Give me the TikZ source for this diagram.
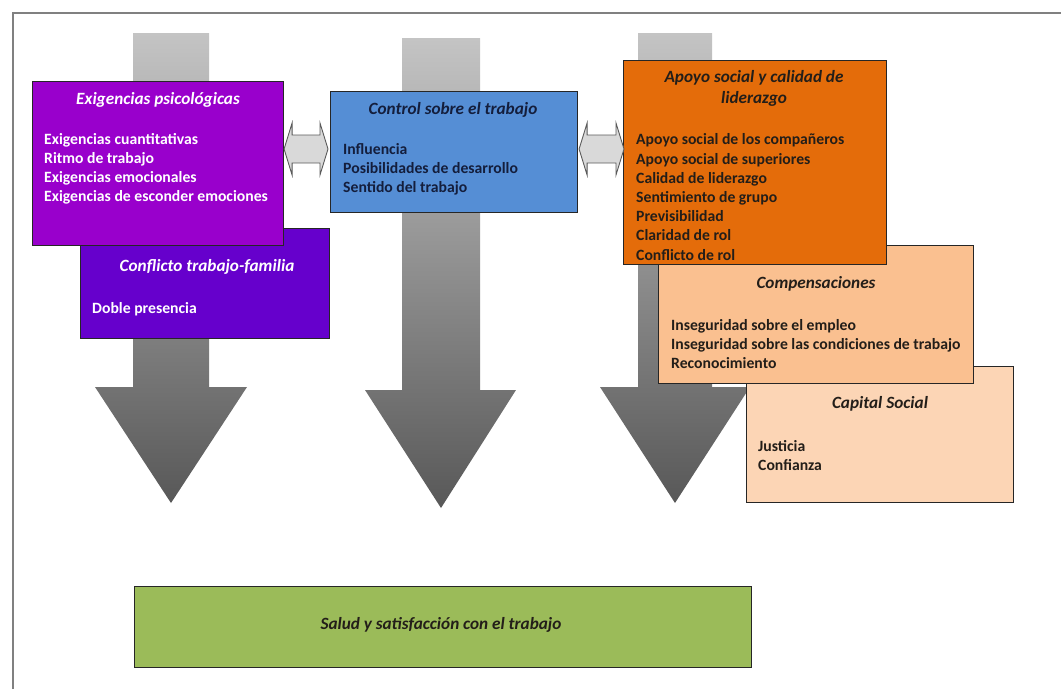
\documentclass[tikz,border=0pt]{standalone}
\usepackage{fontspec}
\setmainfont{Carlito}
\usetikzlibrary{calc}
\definecolor{frame}{RGB}{128,128,128}
\definecolor{exigc}{RGB}{153,0,204}
\definecolor{conflc}{RGB}{102,0,204}
\definecolor{ctrlc}{RGB}{85,142,213}
\definecolor{apoyoc}{RGB}{228,108,10}
\definecolor{compc}{RGB}{250,192,144}
\definecolor{capc}{RGB}{252,213,181}
\definecolor{saludc}{RGB}{155,187,89}
\definecolor{edge}{RGB}{38,38,38}
\definecolor{navytext}{RGB}{20,30,60}
\definecolor{darktext}{RGB}{35,30,25}
\definecolor{arrtop}{RGB}{196,196,196}
\definecolor{arrbot}{RGB}{88,88,88}
\definecolor{dafill}{RGB}{217,217,217}
\definecolor{daedge}{RGB}{90,90,90}
\tikzset{
  box/.style={draw=edge, line width=1.1pt, rectangle, inner sep=0pt, anchor=north west},
  ttl/.style={font=\fontsize{17.2}{21}\selectfont\bfseries\itshape, align=center, inner sep=0pt},
  items/.style={font=\fontsize{15.7}{19.2}\selectfont\bfseries, align=left, inner sep=0pt, anchor=west},
  bigarrow/.style={top color=arrtop, bottom color=arrbot, draw=none},
  dblarrow/.style={fill=dafill, draw=daedge, line width=0.9pt, line join=miter}
}
\begin{document}
\begin{tikzpicture}[x=1pt,y=-1pt]
\useasboundingbox (0,0) rectangle (1061,689);
% frame (top and left edges visible)
\coordinate (fTL) at (13,13);
\coordinate (fTR) at (1061,13);
\coordinate (fBL) at (13,689);
\draw[frame, line width=2pt] (fBL) -- (fTL) -- (fTR);

% big downward arrows
\path[bigarrow] (133,33) -- (209,33) -- (209,387) -- (247,387) -- (171,503) -- (95,387) -- (133,387) -- cycle;
\path[bigarrow] (402,38) -- (480,38) -- (480,390) -- (516,390) -- (441,508) -- (365,390) -- (402,390) -- cycle;
\path[bigarrow] (638,33) -- (712,33) -- (712,387) -- (750,387) -- (675,503) -- (600,387) -- (638,387) -- cycle;

% boxes
\node[box, fill=conflc, minimum width=249pt, minimum height=110pt] (confl) at (80,228) {};
\node[box, fill=exigc, minimum width=251pt, minimum height=164pt] (exig) at (32,81) {};
\node[box, fill=ctrlc, minimum width=247pt, minimum height=121pt] (ctrl) at (330,91) {};
\node[box, fill=capc, minimum width=267pt, minimum height=136pt] (cap) at (746,366) {};
\node[box, fill=compc, minimum width=315pt, minimum height=138pt] (comp) at (658,245) {};
\node[box, fill=apoyoc, minimum width=263pt, minimum height=204pt] (apoyo) at (623,60) {};
\node[box, fill=saludc, minimum width=617pt, minimum height=81pt] (salud) at (134,586) {};

% texts
\node[ttl, text=white] (exigT) at (158,100) {Exigencias psicológicas};
\node[items, text=white] (exigI) at (44,169) {Exigencias cuantitativas\\Ritmo de trabajo\\Exigencias emocionales\\Exigencias de esconder emociones};
\node[ttl, text=white] (conflT) at (207,267) {Conflicto trabajo-familia};
\node[items, text=white] (conflI) at (92,309) {Doble presencia};
\node[ttl, text=navytext] (ctrlT) at (453,110) {Control sobre el trabajo};
\node[items, text=navytext] (ctrlI) at (343,169.5) {Influencia\\Posibilidades de desarrollo\\Sentido del trabajo};
\node[ttl, text=darktext] (apoyoT) at (754,88.5) {Apoyo social y calidad de\\liderazgo};
\node[items, text=darktext] (apoyoI) at (636,197) {Apoyo social de los compañeros\\Apoyo social de superiores\\Calidad de liderazgo\\Sentimiento de grupo\\Previsibilidad\\Claridad de rol\\Conflicto de rol};
\node[ttl, text=darktext] (compT) at (816,284) {Compensaciones};
\node[items, text=darktext] (compI) at (671,344) {Inseguridad sobre el empleo\\Inseguridad sobre las condiciones de trabajo\\Reconocimiento};
\node[ttl, text=darktext] (capT) at (880,404) {Capital Social};
\node[items, text=darktext] (capI) at (758,455.5) {Justicia\\Confianza};
\node[ttl, text=darktext] (saludT) at (441,625) {Salud y satisfacción con el trabajo};

% double arrows between boxes
\coordinate (d1L) at ($(exig.north east)+(0,68)$);
\coordinate (d1R) at ($(ctrl.north west)+(-2,58)$);
\coordinate (d2L) at ($(ctrl.north east)+(1,58)$);
\coordinate (d2R) at ($(apoyo.north west)+(1,89)$);
\foreach \L/\R in {d1L/d1R, d2L/d2R}{
  \path[dblarrow] (\L) -- ($(\L)+(8,-26)$) -- ($(\L)+(8,-14)$) -- ($(\R)+(-8,-14)$) -- ($(\R)+(-8,-26)$) -- (\R) -- ($(\R)+(-8,26)$) -- ($(\R)+(-8,14)$) -- ($(\L)+(8,14)$) -- ($(\L)+(8,26)$) -- cycle;
}
\end{tikzpicture}
\end{document}
